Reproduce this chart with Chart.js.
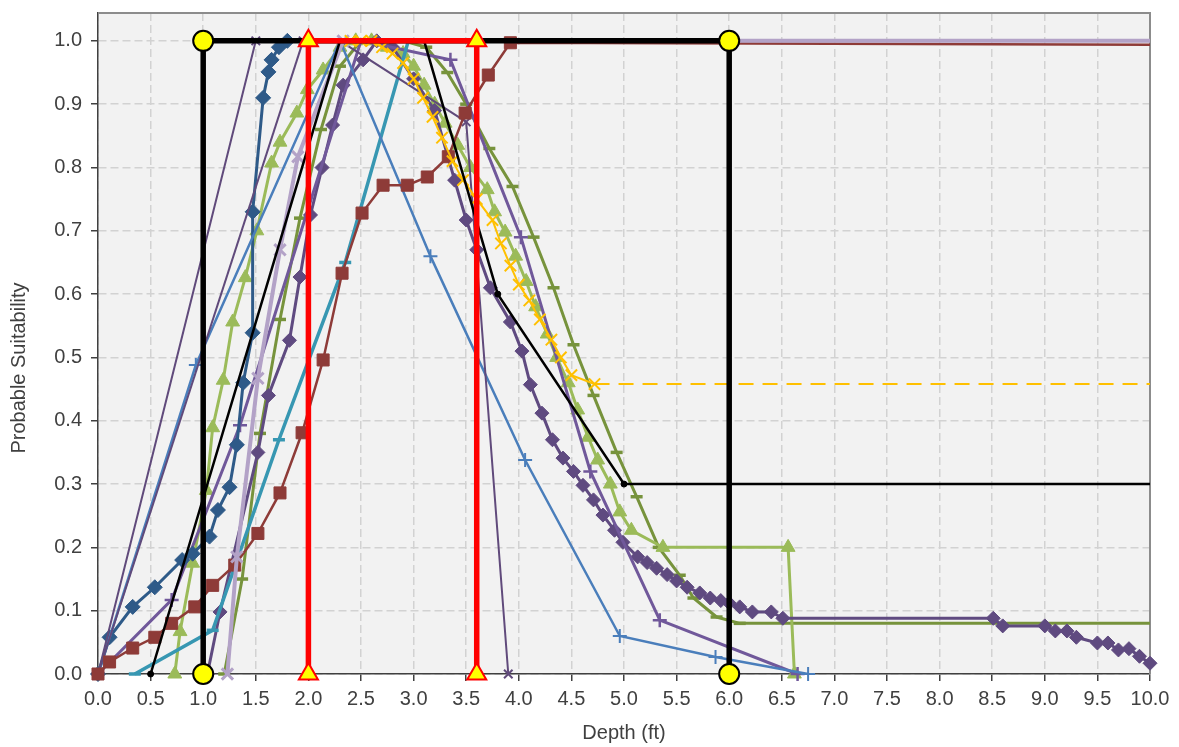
<!DOCTYPE html>
<html><head><meta charset="utf-8">
<script src="https://cdn.jsdelivr.net/npm/chart.js@4"></script>
<style>html,body{margin:0;padding:0;background:#fff}canvas{display:block}</style>
</head><body>
<canvas id="c" width="1179" height="747"></canvas>
<script>
// ---- tick labels ----
const xTicks = [0.0,0.5,1.0,1.5,2.0,2.5,3.0,3.5,4.0,4.5,5.0,5.5,6.0,6.5,7.0,7.5,8.0,8.5,9.0,9.5,10.0];
const yTicks = [0.0,0.1,0.2,0.3,0.4,0.5,0.6,0.7,0.8,0.9,1.0];

// ---- series values (depth ft, probable suitability) ----
const redX = [2.0,2.0,3.6,3.6];
const redY = [0,1,1,0];
const envX = [1.0,1.0,6.0,6.0];
const envY = [0,1,1,0];
const blkX = [0.5,2.3,3.1,3.8,5.0,10.0];
const blkY = [0,1.0,1.0,0.60,0.30,0.30];
const ylwX = [2.4,2.5,2.6,2.7,2.8,2.9,3.0,3.09,3.18,3.27,3.37,3.47,3.6,3.75,3.83,3.92,4.0,4.1,4.2,4.31,4.4,4.5,4.72];
const ylwY = [1.0,1.0,1.0,0.99,0.98,0.965,0.94,0.91,0.88,0.847,0.81,0.78,0.75,0.717,0.68,0.645,0.615,0.59,0.56,0.528,0.50,0.472,0.458];
const ylwTailX = [4.72,10.0];
const ylwTailY = [0.458,0.458];
const lavX = [1.23,1.32,1.52,1.73,1.90,2.33,10.0];
const lavY = [0,0.185,0.467,0.67,0.817,1.0,1.0];
const marX = [0,0.11,0.33,0.54,0.70,0.92,1.09,1.30,1.52,1.73,1.94,2.14,2.32,2.51,2.71,2.94,3.13,3.33,3.49,3.71,3.92,10.0];
const marY = [0,0.019,0.041,0.058,0.08,0.106,0.14,0.172,0.222,0.286,0.381,0.496,0.633,0.728,0.772,0.772,0.785,0.817,0.886,0.946,0.997,0.994];
const tealX = [0.35,1.09,1.72,2.35,2.95];
const tealY = [0,0.069,0.37,0.65,1.0];
const sblX = [0,0.93,2.3,3.16,4.06,4.96,5.87,6.75];
const sblY = [0,0.488,1.0,0.66,0.338,0.06,0.027,0];
const dblX = [0,0.11,0.33,0.54,0.80,0.90,1.06,1.14,1.25,1.32,1.38,1.47,1.47,1.57,1.62,1.65,1.72,1.80];
const dblY = [0,0.058,0.106,0.137,0.18,0.19,0.217,0.259,0.295,0.362,0.46,0.539,0.73,0.91,0.951,0.97,0.99,1.0];
const ppX = [0,0.7,1.35,2.5,3.35,4.02,4.68,5.34,6.65];
const ppY = [0,0.117,0.393,1.0,0.97,0.69,0.32,0.085,0];
const px1X = [0,1.5,2.3,3.5,3.9];
const px1Y = [0,1.0,1.0,0.872,0];
const px2X = [0,1.95];
const px2Y = [0,1.0];
const pdX = [1.04,1.16,1.52,1.62,1.82,1.92,2.02,2.13,2.23,2.33,2.52,2.65,2.8,3.0,3.2,3.39,3.5,3.6,3.73,3.92,4.03,4.11,4.22,4.32,4.42,4.52,4.61,4.71,4.8,4.91,4.99,5.13,5.22,5.31,5.41,5.5,5.6,5.72,5.82,5.92,6.0,6.1,6.22,6.4,6.51,8.51,8.6,9.0,9.1,9.21,9.3,9.5,9.6,9.7,9.8,9.9,10.0];
const pdY = [0,0.098,0.35,0.44,0.527,0.627,0.725,0.80,0.867,0.93,0.97,1.0,0.99,0.94,0.89,0.78,0.717,0.67,0.61,0.556,0.51,0.457,0.412,0.37,0.341,0.32,0.298,0.275,0.251,0.227,0.208,0.185,0.176,0.167,0.157,0.147,0.137,0.128,0.12,0.116,0.112,0.106,0.098,0.098,0.088,0.088,0.076,0.076,0.068,0.068,0.058,0.049,0.049,0.038,0.04,0.028,0.017];
const lgX = [0.73,0.78,0.90,1.03,1.09,1.19,1.28,1.40,1.51,1.65,1.73,1.89,1.99,2.14,2.3,2.45,2.6,2.75,2.9,3.0,3.1,3.2,3.3,3.42,3.54,3.7,3.77,3.87,3.97,4.07,4.16,4.27,4.36,4.47,4.56,4.66,4.75,4.87,4.96,5.07,5.37,6.56,6.62];
const lgY = [0,0.067,0.175,0.29,0.389,0.464,0.556,0.626,0.70,0.807,0.84,0.886,0.923,0.954,0.99,1.0,1.0,0.99,0.98,0.96,0.93,0.90,0.87,0.835,0.80,0.765,0.73,0.698,0.66,0.62,0.58,0.537,0.50,0.46,0.417,0.374,0.338,0.30,0.256,0.227,0.20,0.20,0];
const olX = [1.2,1.37,1.54,1.73,1.92,2.12,2.3,2.5,2.9,3.12,3.32,3.5,3.72,3.94,4.14,4.33,4.52,4.71,4.93,5.12,5.33,5.53,5.66,5.88,6.1,10.0];
const olY = [0,0.15,0.38,0.56,0.72,0.86,0.96,1.0,1.0,0.99,0.95,0.90,0.83,0.77,0.69,0.61,0.52,0.44,0.35,0.28,0.20,0.156,0.12,0.09,0.08,0.08];

// ---- helpers ----
function radii(n, r, skip) { return Array.from({length:n}, (_, i) => skip.includes(i) ? 0 : r); }
function series(label, xs, ys, o) {
  return Object.assign({
    label: label,
    data: xs.map((x, i) => ({x: x, y: ys[i]})),
    borderColor: o.color, backgroundColor: o.color, borderWidth: o.width,
    pointStyle: o.style || 'circle',
    pointRadius: o.radius !== undefined ? o.radius : 0,
    pointBackgroundColor: o.fill || o.color,
    pointBorderColor: o.stroke || o.color,
    pointBorderWidth: o.pbw !== undefined ? o.pbw : 1,
    pointHoverRadius: 0, tension: 0, fill: false, clip: false
  }, o.extra || {});
}

const datasets = [
  series('Red', redX, redY, {color:'#ff0000', width:5.5, style:'triangle', radius:11, fill:'#ffff00', stroke:'#ff0000', pbw:2}),
  series('Envelope', envX, envY, {color:'#000000', width:5.5, style:'circle', radius:10, fill:'#ffff00', stroke:'#000000', pbw:2}),
  series('Black', blkX, blkY, {color:'#000000', width:2.5, style:'circle', radius:[3,0,0,3,3,0]}),
  series('Yellow', ylwX, ylwY, {color:'#ffc000', width:2, style:'crossRot', radius:8, pbw:2}),
  series('YellowTail', ylwTailX, ylwTailY, {color:'#ffc000', width:2, extra:{borderDash:[15,9]}}),
  series('Lavender', lavX, lavY, {color:'#b3a2c7', width:4, style:'crossRot', radius:radii(lavX.length, 8, [lavX.length-1]), pbw:3}),
  series('Maroon', marX, marY, {color:'#8e3b38', width:2.5, style:'rect', radius:radii(marX.length, 8.5, [marX.length-1])}),
  series('PurpleX1', px1X, px1Y, {color:'#604a7b', width:2, style:'crossRot', radius:radii(px1X.length, 6, [0,2]), pbw:2}),
  series('PurpleX2', px2X, px2Y, {color:'#604a7b', width:2, style:'crossRot', radius:[0,6], pbw:2}),
  series('SteelBlue', sblX, sblY, {color:'#4a7ebb', width:2.5, style:'cross', radius:radii(sblX.length, 7, [0,2]), pbw:2}),
  series('Teal', tealX, tealY, {color:'#3797b2', width:3.5, style:'line', radius:radii(tealX.length, 6, [4]), pbw:3.5}),
  series('DarkBlue', dblX, dblY, {color:'#2e5a88', width:3, style:'rectRot', radius:7.5}),
  series('PurplePlus', ppX, ppY, {color:'#70589a', width:3, style:'cross', radius:radii(ppX.length, 7, [0,3]), pbw:2.5}),
  series('PurpleDiamond', pdX, pdY, {color:'#5f4a80', width:3, style:'rectRot', radius:7}),
  series('LightGreen', lgX, lgY, {color:'#9bbb59', width:3, style:'triangle', radius:8}),
  series('Olive', olX, olY, {color:'#77933c', width:3, style:'line', radius:radii(olX.length, 6, [olX.length-1]), pbw:3.5})
];

const framePlugin = {
  id: 'frame',
  beforeDraw(chart) {
    const {ctx, chartArea: a} = chart;
    ctx.save();
    ctx.fillStyle = '#f2f2f2';
    ctx.fillRect(a.left, a.top, a.right - a.left, a.bottom - a.top);
    ctx.restore();
  },
  beforeDatasetsDraw(chart) {
    const {ctx, chartArea: a} = chart;
    ctx.save();
    ctx.strokeStyle = '#8c8c8c';
    ctx.lineWidth = 2;
    ctx.beginPath();
    ctx.moveTo(a.left, a.top);
    ctx.lineTo(a.right, a.top);
    ctx.lineTo(a.right, a.bottom);
    ctx.stroke();
    ctx.restore();
  },
  afterDraw(chart) {
    const ctx = chart.ctx;
    ctx.save();
    ctx.translate(19, 368);
    ctx.rotate(-Math.PI / 2);
    ctx.font = '20px "Liberation Sans", Arial, sans-serif';
    ctx.fillStyle = '#404040';
    ctx.textAlign = 'center';
    ctx.textBaseline = 'middle';
    ctx.fillText('Probable Suitability', 0, 0);
    ctx.restore();
  }
};

Chart.defaults.font.family = '"Liberation Sans", Arial, sans-serif';
Chart.defaults.font.size = 20;
Chart.defaults.color = '#404040';

new Chart(document.getElementById('c'), {
  type: 'line',
  data: { datasets: datasets },
  options: {
    responsive: false, animation: false, devicePixelRatio: 1, events: [],
    layout: { padding: { left: 0, right: 29, top: 7, bottom: 0 } },
    plugins: { legend: { display: false }, tooltip: { enabled: false } },
    scales: {
      x: {
        type: 'linear', min: 0, max: 10,
        afterBuildTicks: s => { s.ticks = xTicks.map(v => ({value: v})); },
        afterFit: s => { s.height = 73; s.paddingLeft = 0; s.paddingRight = 0; },
        ticks: { callback: v => Number(v).toFixed(1), padding: 6, maxRotation: 0, autoSkip: false, color: '#404040', font: {size: 20} },
        grid: { color: '#d2d2d2', lineWidth: 1.5, tickColor: '#404040', tickLength: 7, tickWidth: 1.5 },
        border: { color: '#404040', width: 1.5, dash: [8, 4] },
        title: { display: true, text: 'Depth (ft)', color: '#404040', font: {size: 20}, padding: {top: 0, bottom: 2} }
      },
      y: {
        type: 'linear', min: 0, max: 1.044,
        afterBuildTicks: s => { s.ticks = yTicks.map(v => ({value: v})); },
        afterFit: s => { s.width = 98; s.paddingTop = 0; s.paddingBottom = 0; },
        ticks: { callback: v => Number(v).toFixed(1), padding: 9, color: '#404040', font: {size: 20} },
        grid: { color: '#d2d2d2', lineWidth: 1.5, tickColor: '#404040', tickLength: 7, tickWidth: 1.5 },
        border: { color: '#404040', width: 1.5, dash: [8, 4] }
      }
    }
  },
  plugins: [framePlugin]
});
</script>
</body></html>
